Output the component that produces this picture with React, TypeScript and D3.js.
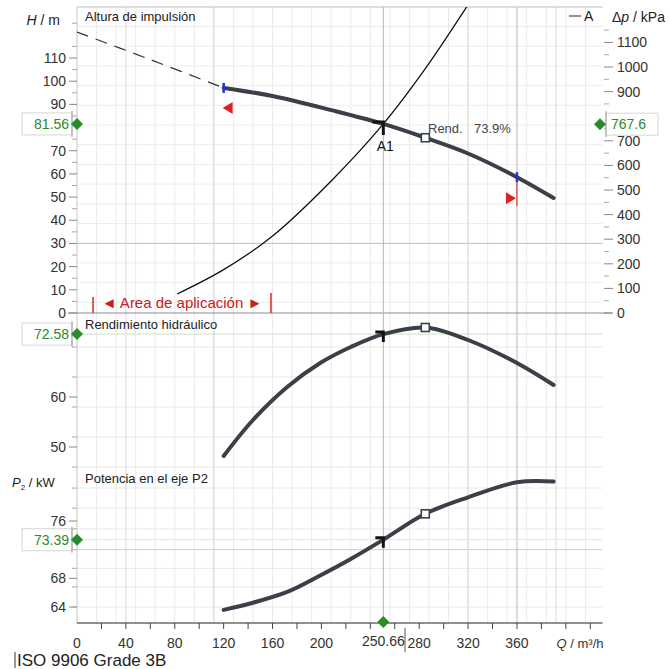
import React from 'react';
import * as d3 from 'd3';

// pump curve data (Q in m³/h)
const headDashQ = [0, 60, 120];
const headDashH = [121.2, 109.3, 97.1];
const headQ = [120, 160, 209, 250.66, 285, 320, 360, 390];
const headH = [97.1, 93.6, 87.4, 81.56, 75.6, 68.8, 58.6, 49.6];
const systemQ = [82, 120, 160, 209, 250.66, 285, 320];
const systemH = [8.2, 18.7, 33.2, 57.5, 81.56, 105.4, 133];
const effQ = [120, 144, 172, 199, 224, 250.66, 285, 320, 360, 390];
const effV = [48.2, 55.4, 62.0, 66.8, 70.0, 72.58, 73.9, 71.4, 66.8, 62.4];
const powQ = [120, 144, 172, 199, 224, 250.66, 285, 320, 360, 390];
const powV = [63.6, 64.6, 66.1, 68.4, 70.7, 73.39, 77.0, 79.3, 81.4, 81.5];

const qLabels = [0, 40, 80, 120, 160, 200, 280, 320, 360];
const hLabels = [0, 10, 20, 30, 40, 50, 60, 70, 90, 100, 110];
const pLabels = [0, 100, 200, 300, 400, 500, 600, 700, 900, 1000, 1100];
const effLabels = [50, 60];
const powLabels = [64, 68, 76];
const effGrid = [46, 52, 58, 64, 70];
const powGrid = [64, 66.8, 69.4, 72, 74.9, 77.8, 80.6];

const opQ = 250.66, opH = 81.56, opP = 767.6, opEff = 72.58, opPow = 73.39;
const bestQ = 285, bestEff = 73.9;
const appMinQ = 120, appMaxQ = 360;

const FONT = '"Liberation Sans", Arial, sans-serif';
const CURVE = '#3b4048';
const GREEN = '#2b8a2b';

export default function App() {
  const x = d3.scaleLinear().domain([0, 430]).range([77, 602.5]);
  const yH = d3.scaleLinear().domain([0, 132]).range([313, 7]);
  const yP = d3.scaleLinear().domain([0, 1244]).range([313, 7]);
  const yE = d3.scaleLinear().domain([50, 60]).range([447, 397]);
  const yW = d3.scaleLinear().domain([64, 76]).range([607, 521]);

  const mk = (qs: number[], vs: number[]) => qs.map((q, i) => [q, vs[i]] as [number, number]);
  const line = (ys: d3.ScaleLinear<number, number>) =>
    d3.line<[number, number]>().x(d => x(d[0])).y(d => ys(d[1])).curve(d3.curveCatmullRom.alpha(0.5));

  const headPath = line(yH)(mk(headQ, headH)) || '';
  const dashPath = line(yH)(mk(headDashQ, headDashH)) || '';
  const sysPath = line(yH)(mk(systemQ, systemH)) || '';
  const effPath = line(yE)(mk(effQ, effV)) || '';
  const powPath = line(yW)(mk(powQ, powV)) || '';

  const gridQ = d3.range(0, 430, 16);
  const gridH = d3.range(4.6, 132, 8.5);
  const minorQTicks = d3.range(20, 430, 20);

  const xL = x(0), xR = x(430);
  const opX = x(opQ);
  const diamond = (cx: number, cy: number, r = 6) =>
    `M${cx},${cy - r}L${cx + r},${cy}L${cx},${cy + r}L${cx - r},${cy}Z`;

  const interp = (qs: number[], vs: number[], q: number) => d3.scaleLinear().domain(qs).range(vs)(q);
  const hMin = interp(headQ, headH, appMinQ);
  const hMax = interp(headQ, headH, appMaxQ);

  const opMarker = (cy: number, len: number) => (
    <path d={`M${opX - len},${cy - 2}L${opX},${cy - 2}L${opX},${cy + len}`}
      fill="none" stroke="#111" strokeWidth={3} />
  );
  const square = (cx: number, cy: number) => (
    <rect x={cx - 4} y={cy - 4} width={8} height={8} fill="#fff" stroke={CURVE} strokeWidth={1.6} />
  );

  const valueBox = (cy: number, text: string, side: 'left' | 'right') => {
    if (side === 'left') {
      return (
        <g>
          <rect x={22} y={cy - 11} width={50} height={22} fill="#fff" stroke="#d6d6d6" />
          <line x1={72} x2={72} y1={cy - 13} y2={cy + 13} stroke="#999" />
          <text x={69} y={cy + 5} textAnchor="end" fill={GREEN} fontSize={14}>{text}</text>
          <path d={diamond(77, cy)} fill={GREEN} />
        </g>
      );
    }
    return (
      <g>
        <rect x={606} y={cy - 11} width={52} height={22} fill="#fff" stroke="#d6d6d6" />
        <line x1={606} x2={606} y1={cy - 13} y2={cy + 13} stroke="#999" />
        <text x={611} y={cy + 5} fill={GREEN} fontSize={14}>{text}</text>
        <path d={diamond(600, cy)} fill={GREEN} />
      </g>
    );
  };

  return (
    <svg width={670} height={669} style={{ position: 'absolute', left: 0, top: 0, background: '#fff' }}
      fontFamily={FONT}>
      <defs>
        <clipPath id="topClip"><rect x={xL} y={7} width={xR - xL} height={306} /></clipPath>
      </defs>

      {/* grid */}
      {gridQ.map(q => (
        <line key={'gq' + q} x1={x(q)} x2={x(q)} y1={7} y2={623} stroke="#eaeaea" />
      ))}
      {gridH.map(h => (
        <line key={'gh' + h} x1={xL} x2={xR} y1={yH(h)} y2={yH(h)} stroke="#ededed" />
      ))}
      <line x1={xL} x2={xR} y1={yH(30)} y2={yH(30)} stroke="#c4c4c4" />
      {effGrid.map(e => (
        <line key={'ge' + e} x1={xL} x2={xR} y1={yE(e)} y2={yE(e)} stroke="#e8e8e8" />
      ))}
      {powGrid.map(p => (
        <line key={'gp' + p} x1={xL} x2={xR} y1={yW(p)} y2={yW(p)} stroke={p === 72 ? '#cfcfcf' : '#e8e8e8'} />
      ))}
      {[40, 112, 320, 392].map(q => (
        <line key={'gm' + q} x1={x(q)} x2={x(q)} y1={7} y2={623} stroke="#d8d8d8" />
      ))}
      <line x1={x(360)} x2={x(360)} y1={7} y2={623} stroke="#b8b8b8" />

      {/* frame */}
      <line x1={xL} x2={xR} y1={7} y2={7} stroke="#bdbdbd" />
      <line x1={xL} x2={xL} y1={7} y2={623} stroke="#d0d0d0" />
      <line x1={68} x2={612} y1={313} y2={313} stroke="#8c8c8c" />
      <line x1={xL} x2={xR} y1={yE(opEff)} y2={yE(opEff)} stroke="#cfe0c4" />
      <line x1={xL} x2={xR} y1={yW(opPow)} y2={yW(opPow)} stroke="#dde8d6" />
      <line x1={opX} x2={opX} y1={7} y2={623} stroke="#9cc79c" />

      {/* left H axis */}
      {hLabels.map(h => (
        <g key={'hl' + h}>
          <line x1={69} x2={77} y1={yH(h)} y2={yH(h)} stroke="#888" />
          <text x={66} y={yH(h) + 5} textAnchor="end" fontSize={14} fill="#333">{h}</text>
        </g>
      ))}
      {d3.range(5, 130, 10).map(h => (
        <line key={'hm' + h} x1={72} x2={77} y1={yH(h)} y2={yH(h)} stroke="#aaa" />
      ))}
      <text x={60} y={25} textAnchor="end" fontSize={14} fill="#222">
        <tspan fontStyle="italic">H</tspan> / m
      </text>
      <text x={85} y={21} fontSize={13} fill="#222">Altura de impulsión</text>

      {/* right Δp axis */}
      {pLabels.map(p => (
        <g key={'pl' + p}>
          <line x1={604} x2={613} y1={yP(p)} y2={yP(p)} stroke="#888" />
          <text x={617} y={yP(p) + 5} fontSize={14} fill="#333">{p}</text>
        </g>
      ))}
      {d3.range(50, 1200, 100).map(p => (
        <line key={'pm' + p} x1={604} x2={609} y1={yP(p)} y2={yP(p)} stroke="#aaa" />
      ))}
      <text x={612} y={22} fontSize={14} fill="#222">
        Δ<tspan fontStyle="italic">p</tspan> / kPa
      </text>
      <line x1={569} x2={581} y1={16} y2={16} stroke="#222" />
      <text x={584} y={21} fontSize={14} fill="#222">A</text>

      {/* head curves */}
      <g clipPath="url(#topClip)">
        <path d={sysPath} fill="none" stroke="#111" strokeWidth={1.3} />
        <path d={dashPath} fill="none" stroke="#333" strokeWidth={1.2} strokeDasharray="12 8" />
        <path d={headPath} fill="none" stroke={CURVE} strokeWidth={4} strokeLinecap="round" />
      </g>
      <line x1={x(appMaxQ)} x2={x(appMaxQ)} y1={yH(hMax)} y2={yH(hMax) + 29} stroke="#e02020" />
      <line x1={x(appMinQ)} x2={x(appMinQ)} y1={yH(hMin) - 5} y2={yH(hMin) + 5} stroke="#2233dd" strokeWidth={2.5} />
      <line x1={x(appMaxQ)} x2={x(appMaxQ)} y1={yH(hMax) - 5} y2={yH(hMax) + 5} stroke="#2233dd" strokeWidth={2.5} />
      <path d={`M${x(appMinQ) + 9},${yH(hMin) + 14}L${x(appMinQ) + 9},${yH(hMin) + 26}L${x(appMinQ) - 1},${yH(hMin) + 20}Z`} fill="#e02020" />
      <path d={`M${x(appMaxQ) - 11},${yH(hMax) + 15}L${x(appMaxQ) - 11},${yH(hMax) + 27}L${x(appMaxQ) - 1},${yH(hMax) + 21}Z`} fill="#e02020" />
      {opMarker(yH(opH), 11)}
      {square(x(bestQ), yH(interp(headQ, headH, bestQ)))}
      <text x={opX + 2} y={151} textAnchor="middle" fontSize={14} fill="#111">A1</text>
      <text x={428} y={133} fontSize={13} fill="#444">Rend.</text>
      <text x={474} y={133} fontSize={13} fill="#444">{bestEff}%</text>

      {/* application range */}
      <line x1={93} x2={93} y1={297} y2={313} stroke="#d42a2a" strokeWidth={1.5} />
      <line x1={271} x2={271} y1={293} y2={313} stroke="#d42a2a" strokeWidth={1.5} />
      <text x={182} y={308} textAnchor="middle" fontSize={15} fill="#c82020">◄ Area de aplicación ►</text>

      {/* efficiency */}
      <text x={85} y={329} fontSize={13} fill="#222">Rendimiento hidráulico</text>
      {effLabels.map(e => (
        <g key={'el' + e}>
          <line x1={69} x2={77} y1={yE(e)} y2={yE(e)} stroke="#888" />
          <text x={66} y={yE(e) + 5} textAnchor="end" fontSize={14} fill="#333">{e}</text>
        </g>
      ))}
      {effGrid.map(e => (
        <line key={'em' + e} x1={72} x2={77} y1={yE(e)} y2={yE(e)} stroke="#aaa" />
      ))}
      <path d={effPath} fill="none" stroke={CURVE} strokeWidth={4} strokeLinecap="round" />
      {opMarker(yE(opEff), 8)}
      {square(x(bestQ), yE(bestEff))}

      {/* power */}
      <text x={85} y={483} fontSize={13} fill="#222">Potencia en el eje P2</text>
      <text x={12} y={487} fontSize={13} fill="#222">
        <tspan fontStyle="italic">P</tspan><tspan fontSize={8} dy={3}>2</tspan><tspan dy={-3}> / kW</tspan>
      </text>
      {powLabels.map(p => (
        <g key={'wl' + p}>
          <line x1={69} x2={77} y1={yW(p)} y2={yW(p)} stroke="#888" />
          <text x={66} y={yW(p) + 5} textAnchor="end" fontSize={14} fill="#333">{p}</text>
        </g>
      ))}
      {powGrid.map(p => (
        <line key={'wm' + p} x1={72} x2={77} y1={yW(p)} y2={yW(p)} stroke="#aaa" />
      ))}
      <path d={powPath} fill="none" stroke={CURVE} strokeWidth={4} strokeLinecap="round" />
      {opMarker(yW(opPow), 8)}
      {square(x(bestQ), yW(interp(powQ, powV, bestQ)))}

      {/* x axis */}
      <line x1={xL} x2={xR} y1={623} y2={623} stroke="#222" />
      {minorQTicks.map(q => (
        <line key={'xt' + q} x1={x(q)} x2={x(q)} y1={623} y2={629} stroke="#444" />
      ))}
      {qLabels.map(q => (
        <text key={'xl' + q} x={x(q)} y={648} textAnchor="middle" fontSize={14} fill="#333">{q}</text>
      ))}
      <line x1={405} x2={405} y1={628} y2={652} stroke="#555" />
      <text x={opX} y={646} textAnchor="middle" fontSize={14} fill="#333">{opQ}</text>
      <text x={580} y={648} textAnchor="middle" fontSize={13} fill="#333">
        <tspan fontStyle="italic">Q</tspan> / m³/h
      </text>
      <path d={diamond(opX, 622)} fill={GREEN} />

      {valueBox(yH(opH), String(opH), 'left')}
      {valueBox(yP(opP), String(opP), 'right')}
      {valueBox(yE(opEff), String(opEff), 'left')}
      {valueBox(yW(opPow), String(opPow), 'left')}

      <line x1={15} x2={15} y1={652} y2={668} stroke="#333" />
      <text x={17} y={666} fontSize={17} fill="#222">ISO 9906 Grade 3B</text>
    </svg>
  );
}
